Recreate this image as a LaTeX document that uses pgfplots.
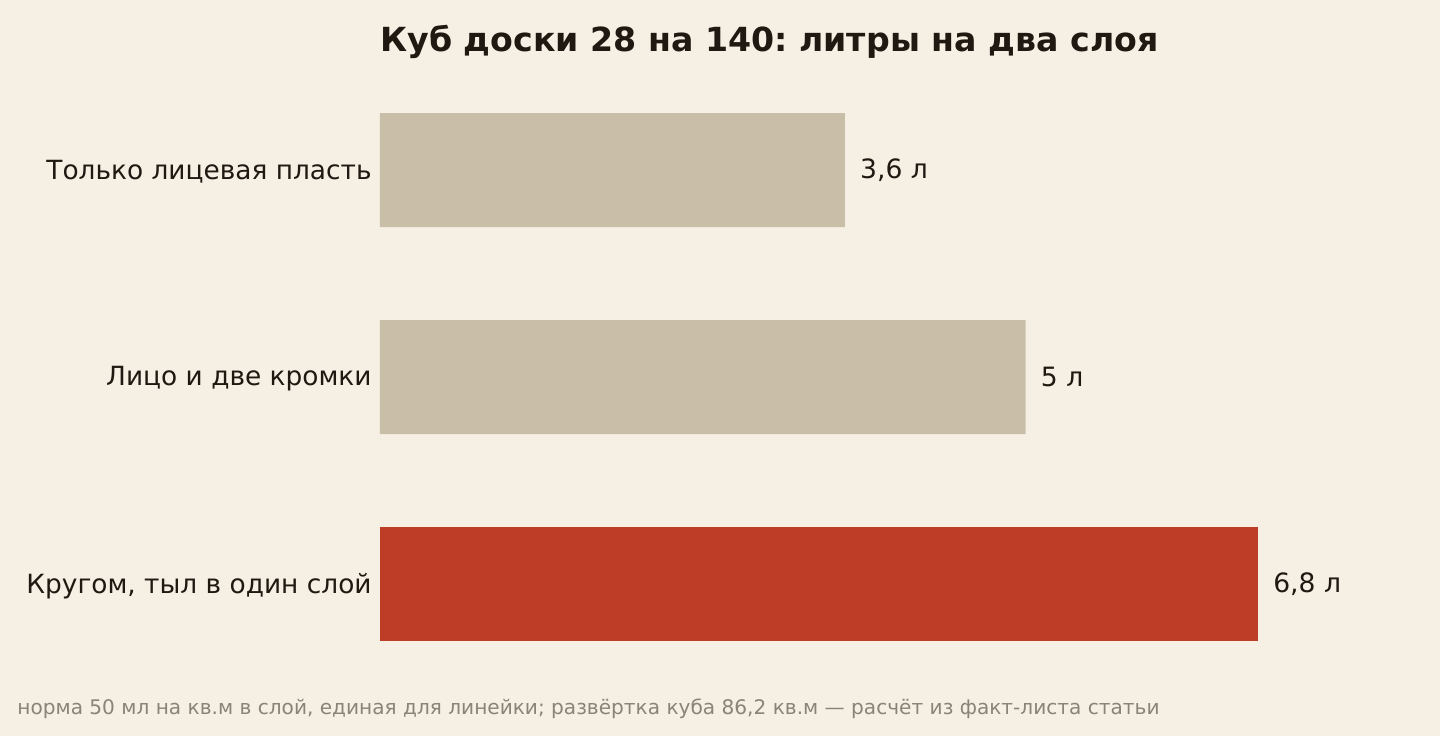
\documentclass[border=0pt]{standalone}
\usepackage{pgfplots}
\pgfplotsset{compat=1.18}
\usepackage{fontspec}
\setmainfont{DejaVu Sans}
\frenchspacing
\definecolor{bg}{HTML}{F6F0E4}
\definecolor{tan}{HTML}{C9BFA8}
\definecolor{brick}{HTML}{BD3D27}
\definecolor{ink}{HTML}{1E1A12}
\definecolor{note}{HTML}{8A8478}
\begin{document}
\begin{tikzpicture}
\fill[bg] (0,0) rectangle (720pt,-368pt);
\useasboundingbox (0,0) rectangle (720pt,-368pt);
\begin{axis}[
  at={(190pt,-354.1pt)}, anchor=south west,
  scale only axis,
  width=516.4pt, height=331.2pt,
  xmin=0, xmax=8,
  ymin=-0.6, ymax=2.6,
  y dir=reverse,
  xbar, bar width=57pt, bar shift=0pt,
  axis line style={draw=none},
  xtick=\empty,
  ytick={0,1,2},
  yticklabels={Только лицевая пласть, Лицо и две кромки, {Кругом, тыл в один слой}},
  major tick length=0pt,
  yticklabel style={font=\fontsize{13.2}{15}\selectfont, text=ink, inner sep=0pt, xshift=-4pt, yshift=-1pt},
  nodes near coords={\pgfmathprintnumber{\pgfplotspointmeta}~л},
  nodes near coords align={horizontal},
  every node near coord/.append style={font=\fontsize{13.3}{15}\selectfont, text=ink, inner sep=0pt, xshift=7.5pt},
  /pgf/number format/use comma,
  /pgf/number format/assume math mode=true,
]
\addplot[draw=none, fill=tan] coordinates {(3.6,0) (5,1)};
\addplot[draw=none, fill=brick] coordinates {(6.8,2)};
\end{axis}
\node[anchor=west, inner sep=0pt, text=ink, font=\fontsize{16.6}{19}\selectfont\bfseries] at (190pt,-21pt) {Куб доски 28 на 140: литры на два слоя};
\node[anchor=west, inner sep=0pt, text=note, font=\fontsize{10.05}{12}\selectfont] at (8.5pt,-354.5pt) {норма 50 мл на кв.м в слой, единая для линейки; развёртка куба 86,2 кв.м — расчёт из факт-листа статьи};
\end{tikzpicture}
\end{document}
